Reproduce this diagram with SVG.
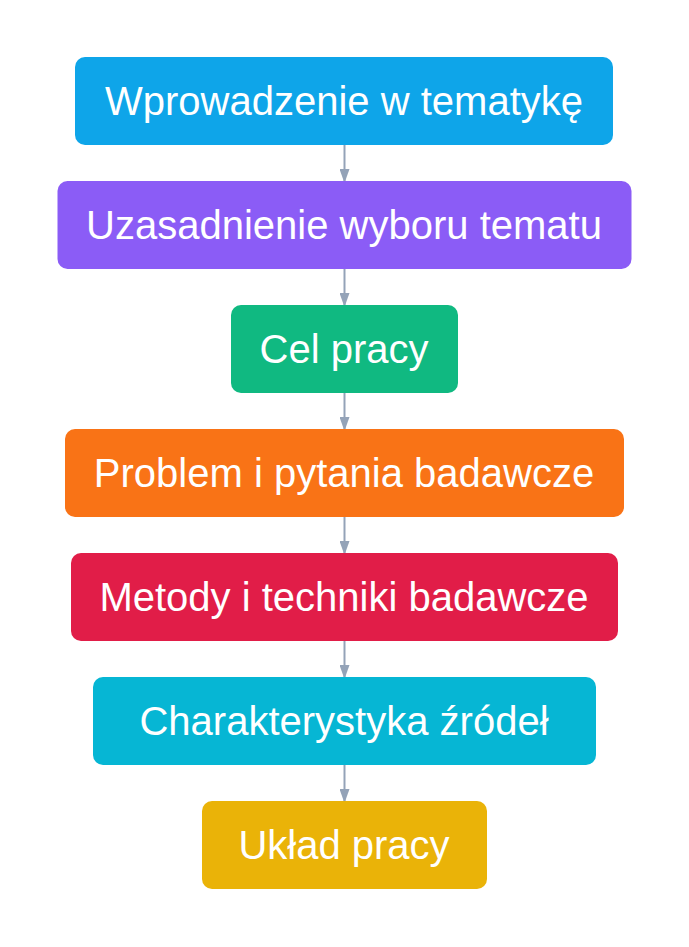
<svg xmlns="http://www.w3.org/2000/svg" width="689" height="947" viewBox="0 0 689 947">
<defs>
<style>
.lbl{font-family:"Liberation Sans",Arial,sans-serif;font-size:40px;fill:#ffffff;text-anchor:middle;dominant-baseline:central}
.edge{stroke:#94A3B8;stroke-width:2;fill:none}
</style>
<marker id="ah" markerWidth="14" markerHeight="10" refX="14" refY="5" orient="auto" markerUnits="userSpaceOnUse" viewBox="0 0 14 10">
<path d="M0,0 L14,5 L0,10 Z" fill="#94A3B8"/>
</marker>
</defs>
<rect width="689" height="947" fill="#ffffff"/>
<g id="connectors">
<line class="edge" x1="344.5" y1="145" x2="344.5" y2="183" marker-end="url(#ah)"/>
<line class="edge" x1="344.5" y1="269" x2="344.5" y2="307" marker-end="url(#ah)"/>
<line class="edge" x1="344.5" y1="393" x2="344.5" y2="431" marker-end="url(#ah)"/>
<line class="edge" x1="344.5" y1="517" x2="344.5" y2="555" marker-end="url(#ah)"/>
<line class="edge" x1="344.5" y1="641" x2="344.5" y2="679" marker-end="url(#ah)"/>
<line class="edge" x1="344.5" y1="765" x2="344.5" y2="803" marker-end="url(#ah)"/>
</g>
<g id="n1"><rect x="75" y="57" width="538" height="88" rx="10" fill="#0EA5E9"/><text class="lbl" x="344" y="101">Wprowadzenie w tematykę</text></g>
<g id="n2"><rect x="57.5" y="181" width="574" height="88" rx="10" fill="#8B5CF6"/><text class="lbl" x="344" y="225">Uzasadnienie wyboru tematu</text></g>
<g id="n3"><rect x="231" y="305" width="227" height="88" rx="10" fill="#10B981"/><text class="lbl" x="344" y="349">Cel pracy</text></g>
<g id="n4"><rect x="65" y="429" width="559" height="88" rx="10" fill="#F97316"/><text class="lbl" x="344" y="473">Problem i pytania badawcze</text></g>
<g id="n5"><rect x="71" y="553" width="547" height="88" rx="10" fill="#E11D48"/><text class="lbl" x="344" y="597">Metody i techniki badawcze</text></g>
<g id="n6"><rect x="93" y="677" width="503" height="88" rx="10" fill="#06B6D4"/><text class="lbl" x="344" y="721">Charakterystyka źródeł</text></g>
<g id="n7"><rect x="202" y="801" width="285" height="88" rx="10" fill="#EAB308"/><text class="lbl" x="344" y="845">Układ pracy</text></g>
</svg>
